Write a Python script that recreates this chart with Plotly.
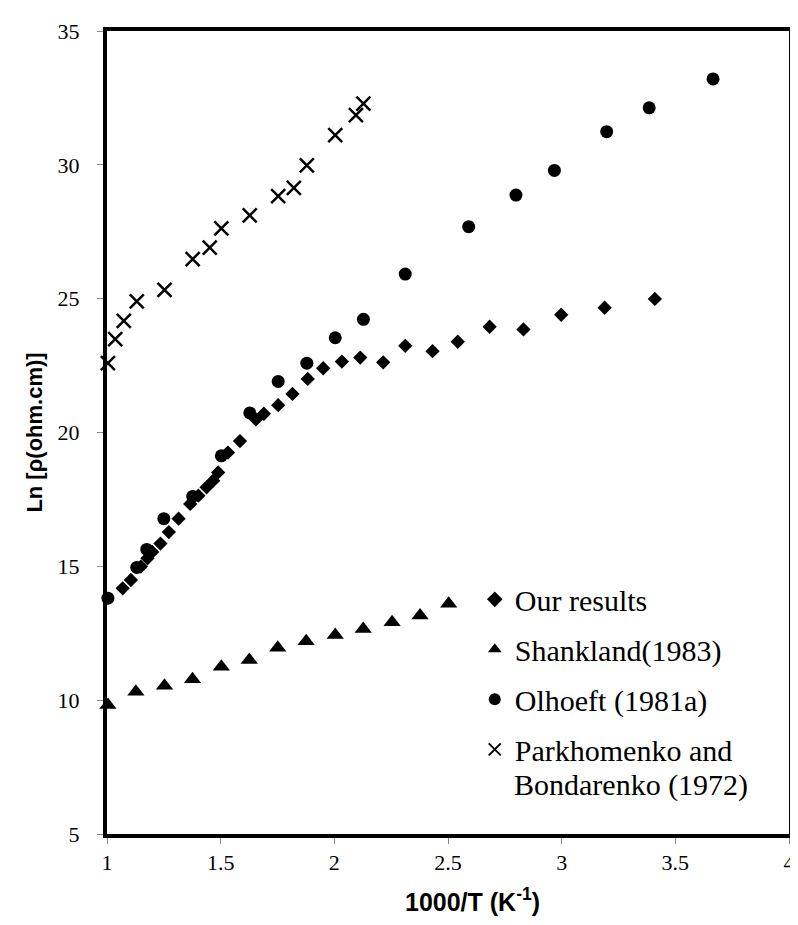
import plotly.graph_objects as go

# Our results (diamonds)
our_x = [1.069, 1.105, 1.149, 1.178, 1.199, 1.235, 1.272, 1.315, 1.366, 1.402, 1.438, 1.467,
         1.489, 1.532, 1.585, 1.655, 1.690, 1.753, 1.816, 1.883, 1.951, 2.033, 2.114, 2.215,
         2.312, 2.432, 2.543, 2.683, 2.832, 2.998, 3.189, 3.410]
our_y = [14.18, 14.49, 14.99, 15.30, 15.54, 15.85, 16.28, 16.78, 17.33, 17.64, 17.95, 18.20,
         18.51, 19.25, 19.68, 20.49, 20.70, 21.02, 21.44, 22.00, 22.40, 22.65, 22.80, 22.62,
         23.24, 23.04, 23.39, 23.95, 23.85, 24.40, 24.66, 24.99]

# Shankland (1983) (triangles)
sh_x = [1.004, 1.127, 1.253, 1.376, 1.503, 1.626, 1.751, 1.876, 2.004, 2.127, 2.254, 2.377, 2.503]
sh_y = [9.82, 10.31, 10.54, 10.78, 11.25, 11.50, 11.96, 12.20, 12.43, 12.66, 12.91, 13.16, 13.60]

# Olhoeft (1981a) (circles)
ol_x = [1.004, 1.131, 1.175, 1.250, 1.377, 1.503, 1.628, 1.753, 1.879, 2.004, 2.128,
        2.312, 2.591, 2.799, 2.968, 3.198, 3.385, 3.666]
ol_y = [13.81, 14.96, 15.63, 16.78, 17.61, 19.13, 20.73, 21.91, 22.59, 23.54, 24.23,
        25.92, 27.69, 28.87, 29.79, 31.24, 32.13, 33.21]

# Parkhomenko and Bondarenko (1972) (crosses)
pb_x = [1.004, 1.036, 1.074, 1.131, 1.253, 1.377, 1.452, 1.503, 1.628, 1.753, 1.822,
        1.879, 2.004, 2.095, 2.128]
pb_y = [22.59, 23.49, 24.17, 24.90, 25.33, 26.48, 26.91, 27.63, 28.11, 28.83, 29.14,
        29.98, 31.11, 31.86, 32.29]

names = ["Our results", "Shankland(1983)", "Olhoeft (1981a)", "Parkhomenko and"]
name_cont = "Bondarenko (1972)"

x_ticks = [1, 1.5, 2, 2.5, 3, 3.5, 4]
y_ticks = [5, 10, 15, 20, 25, 30, 35]

fig = go.Figure()
fig.add_trace(go.Scatter(x=our_x, y=our_y, mode="markers", name=names[0], legendgroup="a",
                         cliponaxis=False,
                         marker=dict(symbol="diamond", size=11, color="black")))
fig.add_trace(go.Scatter(x=sh_x, y=sh_y, mode="markers", name=names[1], legendgroup="b",
                         cliponaxis=False,
                         marker=dict(symbol="triangle-up", size=15, color="black")))
fig.add_trace(go.Scatter(x=ol_x, y=ol_y, mode="markers", name=names[2], legendgroup="c",
                         cliponaxis=False,
                         marker=dict(symbol="circle", size=13, color="black")))
fig.add_trace(go.Scatter(x=pb_x, y=pb_y, mode="markers", name=names[3], legendgroup="d",
                         cliponaxis=False,
                         marker=dict(symbol="x-thin", size=14, color="black",
                                     line=dict(color="black", width=2.5))))

serif = "Liberation Serif, Times New Roman, serif"
sans = "Liberation Sans, Arial, sans-serif"

R_EDGE = 787
H_PLOT = 826 - 17
W_PLOT = R_EDGE - 99

fig.update_layout(
    width=798, height=925,
    margin=dict(l=99, r=798 - R_EDGE, t=17, b=99),
    paper_bgcolor="white", plot_bgcolor="white",
    showlegend=True,
    legend=dict(x=(470 - 99) / W_PLOT, y=0.3246, xanchor="left", yanchor="top",
                font=dict(family=serif, size=30, color="black"),
                bgcolor="rgba(0,0,0,0)", tracegroupgap=8,
                traceorder="grouped", itemsizing="constant", valign="middle"),
    xaxis=dict(range=[1, 4], tickvals=x_ticks, ticktext=[str(v) for v in x_ticks],
               showgrid=False, zeroline=False,
               showline=True, linecolor="black", linewidth=4, mirror=True,
               ticks="outside", ticklen=6, tickcolor="#888", tickwidth=1,
               ticklabelstandoff=0,
               tickfont=dict(family=serif, size=22, color="black")),
    yaxis=dict(range=[5, 35], tickvals=y_ticks, ticktext=[str(v) for v in y_ticks],
               showgrid=False, zeroline=False,
               showline=True, linecolor="black", linewidth=4, mirror=True,
               ticks="outside", ticklen=6, tickcolor="#888", tickwidth=1,
               ticklabelstandoff=13,
               tickfont=dict(family=serif, size=22, color="black"),
               title=dict(text="<b>Ln [ρ(ohm.cm)]</b>",
                          font=dict(family=sans, size=22, color="black"),
                          standoff=10)),
    annotations=[
        dict(text="<b>1000/T (K<sup>-1</sup>)</b>", xref="paper", yref="paper",
             x=(468 - 99) / W_PLOT, y=-(892 - 826) / H_PLOT,
             xanchor="center", yanchor="middle", showarrow=False,
             font=dict(family=sans, size=25, color="black")),
        dict(text=name_cont, xref="paper", yref="paper",
             x=(508 - 99) / W_PLOT, y=(826 - 777) / H_PLOT,
             xanchor="left", yanchor="middle", showarrow=False,
             font=dict(family=serif, size=30, color="black")),
    ],
)

fig.write_html("out.html")
